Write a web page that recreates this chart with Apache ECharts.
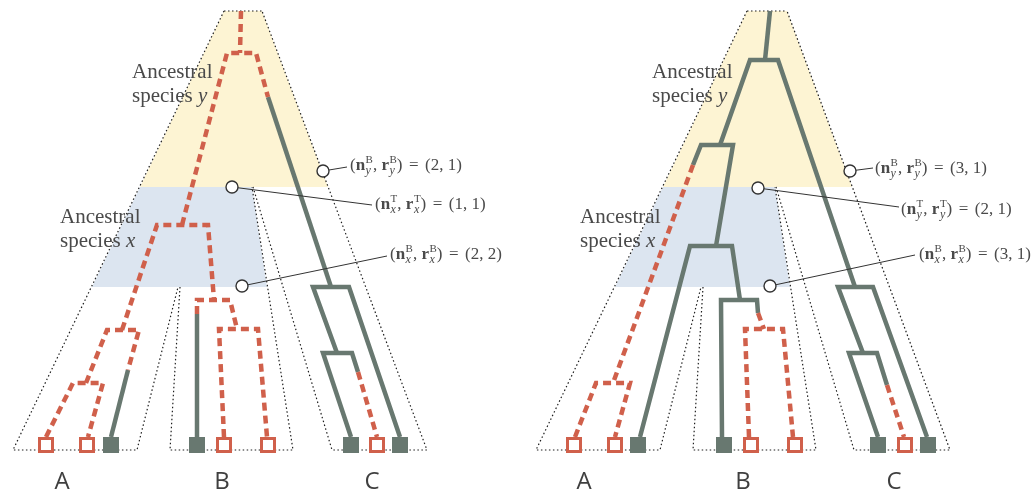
<!DOCTYPE html>
<html>
<head>
<meta charset="utf-8">
<script src="https://cdn.jsdelivr.net/npm/echarts@6/dist/echarts.min.js"></script>
<style>
  html, body { margin: 0; padding: 0; background: #fff; }
  #main { width: 1034px; height: 494px; }
</style>
</head>
<body>
<div id="main"></div>
<script>
// species tubes (left panel, then right panel)
const yellowLeft = [[224, 11], [262, 11], [328, 187], [140, 187]];
const blueLeft = [[140, 187], [252, 187], [267, 287], [92, 287]];
const yellowRight = [[747, 11], [787, 11], [852, 187], [663, 187]];
const blueRight = [[663, 187], [775, 187], [790, 287], [615, 287]];

const outlineLeft = [
    [[224, 11], [262, 11]],
    [[224, 11], [13, 450], [137, 450], [178, 287]],
    [[180, 287], [170, 450], [293, 450], [252, 187]],
    [[253, 187], [332, 450], [427, 450], [262, 11]]
];
const outlineRight = [
    [[747, 11], [787, 11]],
    [[747, 11], [536, 450], [660, 450], [701, 287]],
    [[703, 287], [693, 450], [816, 450], [775, 187]],
    [[776, 187], [854, 450], [950, 450], [787, 11]]
];

// gene tree branches
const redLeft = [
    [[241, 11], [240, 53]],
    [[182, 225], [227, 53], [256, 53], [268, 97]],
    [[122, 330], [157, 225], [208, 225], [214, 300]],
    [[86, 383], [107, 330], [139, 330], [128, 370]],
    [[46, 437], [73, 383], [103, 383], [88, 437]],
    [[197, 314], [197, 300], [230, 300], [237, 329]],
    [[224, 437], [219, 329], [258, 329], [267, 437]],
    [[358, 372], [377, 437]]
];
const greyLeft = [
    [[268, 97], [331, 287]],
    [[337, 353], [313, 287], [349, 287], [400, 437]],
    [[351, 437], [323, 353], [352, 353], [358, 372]],
    [[197, 314], [197, 437]],
    [[128, 370], [111, 437]]
];
const redRight = [
    [[693, 165], [613, 383]],
    [[575, 437], [596, 383], [630, 383], [615, 437]],
    [[758, 313], [764, 329]],
    [[749, 437], [745, 329], [783, 329], [793, 437]],
    [[887, 385], [904, 437]]
];
const greyRight = [
    [[770, 11], [765, 60]],
    [[720, 145], [750, 60], [778, 60], [855, 287]],
    [[693, 165], [701, 145], [733, 145], [716, 246]],
    [[640, 437], [690, 246], [732, 246], [740, 300]],
    [[722, 437], [721, 300], [757, 300], [758, 313]],
    [[863, 353], [838, 287], [873, 287], [927, 437]],
    [[878, 437], [849, 353], [877, 353], [887, 385]]
];

// leaves
const lostLeaves = [[46, 445], [87, 445], [224, 445], [268, 445], [377, 445],
                    [574, 445], [615, 445], [751, 445], [795, 445], [905, 445]];
const keptLeaves = [[111, 445], [197, 445], [351, 445], [400, 445],
                    [638, 445], [724, 445], [878, 445], [928, 445]];

// annotation circles and leader ends
const markers = [[323, 171], [232, 187], [242, 286], [850, 171], [758, 188], [770, 286]];
const leaderEnds = [[347, 167], [372, 205], [387, 256], [873, 168], [899, 207], [915, 255]];
const noteText = [
    { x: 350, y: 166, sub: 'y', sup: 'B', val: '(2, 1)' },
    { x: 375, y: 205, sub: 'x', sup: 'T', val: '(1, 1)' },
    { x: 390, y: 255, sub: 'x', sup: 'B', val: '(2, 2)' },
    { x: 875, y: 169, sub: 'y', sup: 'B', val: '(3, 1)' },
    { x: 901, y: 210, sub: 'y', sup: 'T', val: '(2, 1)' },
    { x: 919, y: 255, sub: 'x', sup: 'B', val: '(3, 1)' }
];

const tipLabels = ['A', 'B', 'C', 'A', 'B', 'C'];
const tipLabelX = [62, 222, 372, 584, 743, 894];
const ancestorLabels = [
    { x: 132, y: 60, who: 'y' }, { x: 60, y: 205, who: 'x' },
    { x: 652, y: 60, who: 'y' }, { x: 580, y: 205, who: 'x' }
];

const RED = '#d0604b';
const GREY = '#687870';
const INK = '#4a4a4a';
const SERIF = '"Liberation Serif", "DejaVu Serif", serif';

const chart = echarts.init(document.getElementById('main'));

const zones = [
    { pts: yellowLeft, fill: '#fdf4d3' }, { pts: blueLeft, fill: '#dce5f0' },
    { pts: yellowRight, fill: '#fdf4d3' }, { pts: blueRight, fill: '#dce5f0' }
];

function pathSeries(paths, stroke, width, dash, z) {
    return {
        type: 'custom', z: z, silent: true, clip: false,
        data: paths.map(p => p[0]),
        renderItem(params, api) {
            const pts = paths[params.dataIndex].map(p => api.coord(p));
            return {
                type: 'polyline',
                shape: { points: pts },
                style: { fill: null, stroke: stroke, lineWidth: width, lineDash: dash, lineCap: 'butt', lineJoin: 'miter' }
            };
        }
    };
}

// math notes built from pieces
const measure = document.createElement('canvas').getContext('2d');
function tw(t, font) { measure.font = font; return measure.measureText(t).width; }
function noteGraphic(n) {
    const big = '17px ' + SERIF;
    const bold = 'bold 17px ' + SERIF;
    const small = '11px ' + SERIF;
    const smallIt = 'italic 12px ' + SERIF;
    const out = [];
    let cx = n.x;
    function put(t, font, dy) {
        out.push({
            type: 'text', x: cx, y: n.y + dy, z: 50, silent: true,
            style: { text: t, font: font, fill: INK, align: 'left', verticalAlign: 'middle', textAlign: 'left', textVerticalAlign: 'middle' }
        });
        return tw(t, font);
    }
    cx += put('(', big, 0);
    ['n', 'r'].forEach((v, k) => {
        cx += put(v, bold, 0) + 0.5;
        const a = put(n.sup, small, -6);
        const b = put(n.sub, smallIt, 5);
        cx += Math.max(a, b);
        if (k === 0) cx += put(', ', big, 0);
    });
    cx += put(')', big, 0) + 6.5;
    cx += put('=', big, 0) + 6.5;
    put(n.val, big, 0);
    return out;
}

let graphics = [];
noteText.forEach(n => { graphics = graphics.concat(noteGraphic(n)); });
ancestorLabels.forEach(a => {
    graphics.push({
        type: 'text', x: a.x, y: a.y, z: 50, silent: true,
        style: {
            text: 'Ancestral\nspecies {i|' + a.who + '}',
            fontSize: 21, fontFamily: SERIF, fill: INK, lineHeight: 24,
            verticalAlign: 'top', textVerticalAlign: 'top',
            rich: { i: { fontSize: 21, fontFamily: SERIF, fontStyle: 'italic', fill: INK, lineHeight: 24 } }
        }
    });
});
tipLabels.forEach((t, i) => {
    graphics.push({
        type: 'text', x: tipLabelX[i], y: 482, z: 50, silent: true,
        style: { text: t, font: '24px "Open Sans", "Liberation Sans", sans-serif', fill: '#3f3f3f',
                 align: 'center', verticalAlign: 'middle', textAlign: 'center', textVerticalAlign: 'middle' }
    });
});

chart.setOption({
    animation: false,
    grid: { left: 0, right: 0, top: 0, bottom: 0 },
    xAxis: { type: 'value', min: 0, max: 1034, show: false },
    yAxis: { type: 'value', min: 0, max: 494, inverse: true, show: false },
    graphic: graphics,
    series: [
        {
            type: 'custom', z: 1, silent: true, clip: false,
            data: zones.map(zn => zn.pts[0]),
            renderItem(params, api) {
                const zn = zones[params.dataIndex];
                return { type: 'polygon', shape: { points: zn.pts.map(p => api.coord(p)) }, style: { fill: zn.fill, stroke: null } };
            }
        },
        pathSeries(outlineLeft.concat(outlineRight), '#1e1e1e', 1.2, [1.5, 2.5], 2),
        pathSeries(greyLeft.concat(greyRight), GREY, 4.5, null, 3),
        pathSeries(redLeft.concat(redRight), RED, 4.5, [8, 5], 4),
        {
            type: 'lines', coordinateSystem: 'cartesian2d', z: 5, silent: true,
            data: markers.map((m, i) => ({ coords: [m, leaderEnds[i]] })),
            lineStyle: { color: '#333', width: 1, opacity: 1 }
        },
        {
            type: 'scatter', z: 6, silent: true, symbol: 'circle', symbolSize: 12,
            data: markers,
            itemStyle: { color: '#fff', borderColor: '#333', borderWidth: 1.4, opacity: 1 }
        },
        {
            type: 'scatter', z: 6, silent: true, symbol: 'rect', symbolSize: 13,
            data: lostLeaves,
            itemStyle: { color: '#fff', borderColor: RED, borderWidth: 3, opacity: 1 }
        },
        {
            type: 'scatter', z: 6, silent: true, symbol: 'rect', symbolSize: 16,
            data: keptLeaves,
            itemStyle: { color: GREY, opacity: 1 }
        }
    ]
});
</script>
</body>
</html>
